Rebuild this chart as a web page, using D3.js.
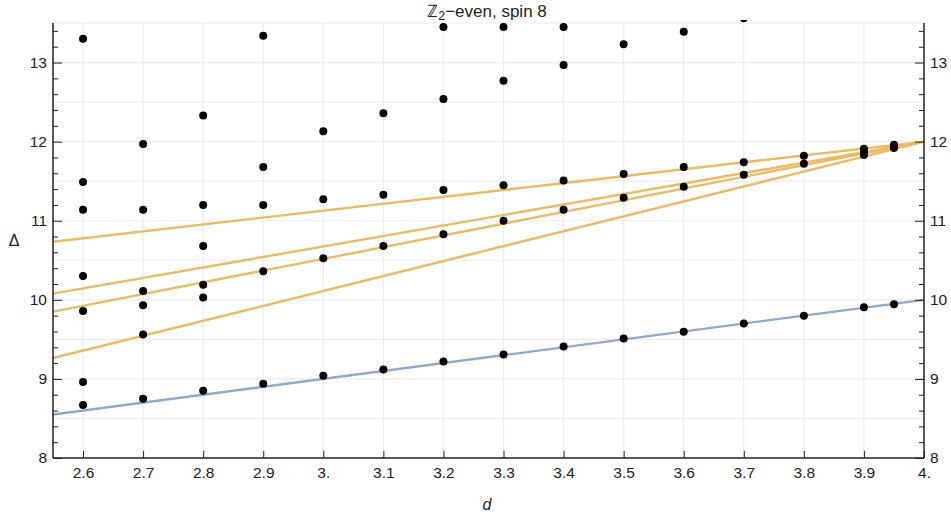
<!DOCTYPE html>
<html>
<head>
<meta charset="utf-8">
<script src="https://cdn.jsdelivr.net/npm/d3@7"></script>
<style>
  body { margin: 0; background: #fff; }
  svg text { font-family: "Liberation Sans", Arial, sans-serif; fill: #222; }
</style>
</head>
<body>
<svg width="951" height="516"></svg>
<script>
// columns of spacetime dimension d and the operator dimensions found there
var dColumns = [2.6, 2.7, 2.8, 2.9, 3.0, 3.1, 3.2, 3.3, 3.4, 3.5, 3.6, 3.7, 3.8, 3.9, 3.95];
var spectrum = [
    [13.30, 11.49, 11.14, 10.30, 9.86, 8.96, 8.67],
    [11.97, 11.14, 10.11, 9.93, 9.56, 8.75],
    [12.33, 11.20, 10.68, 10.19, 10.03, 8.85],
    [13.34, 11.68, 11.20, 10.36, 8.94],
    [12.13, 11.27, 10.525, 9.04],
    [12.36, 11.33, 10.68, 9.12],
    [13.45, 12.54, 11.39, 10.83, 9.22],
    [13.45, 12.77, 11.45, 11.00, 9.31],
    [13.45, 12.97, 11.51, 11.14, 9.41],
    [13.23, 11.59, 11.29, 9.51],
    [13.39, 11.68, 11.43, 9.595],
    [13.56, 11.74, 11.58, 9.70],
    [11.82, 11.72, 9.80],
    [11.91, 11.87, 11.83, 9.906],
    [11.96, 11.94, 11.92, 9.944]
];

// reference lines, given by their two ends
var lineEnds = [2.55, 4];
var blueLine = [8.55, 10];
var orangeLines = [
    [10.735, 12],
    [10.078, 12],
    [9.851, 12],
    [9.263, 12]
];

var xTicks = [2.6, 2.7, 2.8, 2.9, 3.0, 3.1, 3.2, 3.3, 3.4, 3.5, 3.6, 3.7, 3.8, 3.9, 4.0];
var yTicks = [8, 9, 10, 11, 12, 13];
var yGrid = [8.5, 9, 9.5, 10, 10.5, 11, 11.5, 12, 12.5, 13, 13.5];

var margin = { top: 23, right: 27, bottom: 58, left: 53 };
var svg = d3.select('svg'),
    width = +svg.attr('width') - margin.left - margin.right,
    height = +svg.attr('height') - margin.top - margin.bottom;

var x = d3.scaleLinear().domain([2.55, 4]).range([0, width]);
var y = d3.scaleLinear().domain([8, 13.5]).range([height, 0]);

var g = svg.append('g')
    .attr('transform', 'translate(' + margin.left + ',' + margin.top + ')');

svg.append('defs').append('clipPath').attr('id', 'plotclip')
    .append('rect').attr('x', 0).attr('y', -3).attr('width', width + 1).attr('height', height + 3);

// grid
g.append('g').selectAll('line').data(xTicks.filter(function (d) { return d < 4; }))
    .enter().append('line')
    .attr('x1', function (d) { return x(d); })
    .attr('x2', function (d) { return x(d); })
    .attr('y1', 0).attr('y2', height)
    .attr('stroke', '#ececec').attr('stroke-width', 1.2);
g.append('g').selectAll('line').data(yGrid)
    .enter().append('line')
    .attr('x1', 0).attr('x2', width)
    .attr('y1', function (d) { return y(d); })
    .attr('y2', function (d) { return y(d); })
    .attr('stroke', '#ececec').attr('stroke-width', 1.2);

var plot = g.append('g').attr('clip-path', 'url(#plotclip)');
var line = d3.line()
    .x(function (d) { return x(d[0]); })
    .y(function (d) { return y(d[1]); });

function ends(vals) {
    return lineEnds.map(function (d, i) { return [d, vals[i]]; });
}

plot.selectAll('.orange').data(orangeLines)
    .enter().append('path')
    .attr('class', 'orange')
    .attr('d', function (d) { return line(ends(d)); })
    .attr('fill', 'none')
    .attr('stroke', '#ebbb63')
    .attr('stroke-width', 2.4);

plot.append('path')
    .attr('d', line(ends(blueLine)))
    .attr('fill', 'none')
    .attr('stroke', '#8ea9cf')
    .attr('stroke-width', 2.4);

var points = [];
dColumns.forEach(function (d, i) {
    spectrum[i].forEach(function (v) { points.push([d, v]); });
});

plot.selectAll('.dot').data(points)
    .enter().append('circle')
    .attr('class', 'dot')
    .attr('cx', function (d) { return x(d[0]); })
    .attr('cy', function (d) { return y(d[1]); })
    .attr('r', 4)
    .attr('fill', '#000');

// axes (ticks pointing inward)
function fmtX(d) {
    return Math.abs(d - Math.round(d)) < 1e-9 ? Math.round(d) + '.' : d3.format('.1f')(d);
}
var minorY = d3.range(8, 13.5, 0.2).filter(function (d) {
    return Math.abs(d - Math.round(d)) > 1e-6;
});

function styleAxis(sel) {
    sel.selectAll('.domain').remove();
    sel.selectAll('line').attr('stroke', '#222').attr('stroke-width', 1);
    sel.selectAll('text').attr('font-size', 15.5).attr('fill', '#222');
}

g.append('g').attr('transform', 'translate(0,' + height + ')')
    .call(d3.axisBottom(x).tickValues(xTicks).tickFormat(fmtX).tickSize(-7).tickPadding(9))
    .call(styleAxis);

g.append('g')
    .call(d3.axisLeft(y).tickValues(yTicks).tickFormat(d3.format('d')).tickSize(-9).tickPadding(6))
    .call(styleAxis);
g.append('g')
    .call(d3.axisLeft(y).tickValues(minorY).tickFormat('').tickSize(-5))
    .call(styleAxis);

g.append('g').attr('transform', 'translate(' + width + ',0)')
    .call(d3.axisRight(y).tickValues(yTicks).tickFormat(d3.format('d')).tickSize(-9).tickPadding(6))
    .call(styleAxis);
g.append('g').attr('transform', 'translate(' + width + ',0)')
    .call(d3.axisRight(y).tickValues(minorY).tickFormat('').tickSize(-5))
    .call(styleAxis);

// frame lines
g.append('line').attr('x1', 0).attr('x2', width).attr('y1', height).attr('y2', height)
    .attr('stroke', '#222').attr('stroke-width', 1.5);
g.append('line').attr('x1', 0).attr('x2', 0).attr('y1', 0).attr('y2', height)
    .attr('stroke', '#222').attr('stroke-width', 1.5);
g.append('line').attr('x1', width).attr('x2', width).attr('y1', 0).attr('y2', height)
    .attr('stroke', '#222').attr('stroke-width', 1.5);

// labels
var title = svg.append('text')
    .attr('x', 487).attr('y', 17)
    .attr('text-anchor', 'middle')
    .attr('font-size', 17);
title.append('tspan').text('ℤ');
title.append('tspan').attr('font-size', 12.5).attr('dy', 3).text('2');
title.append('tspan').attr('dy', -3).text('−even, spin 8');

svg.append('text')
    .attr('x', 487).attr('y', 510)
    .attr('text-anchor', 'middle')
    .attr('font-size', 16)
    .attr('font-style', 'italic')
    .text('d');

svg.append('text')
    .attr('x', 14).attr('y', 246)
    .attr('text-anchor', 'middle')
    .attr('font-size', 16)
    .text('Δ');
</script>
</body>
</html>
